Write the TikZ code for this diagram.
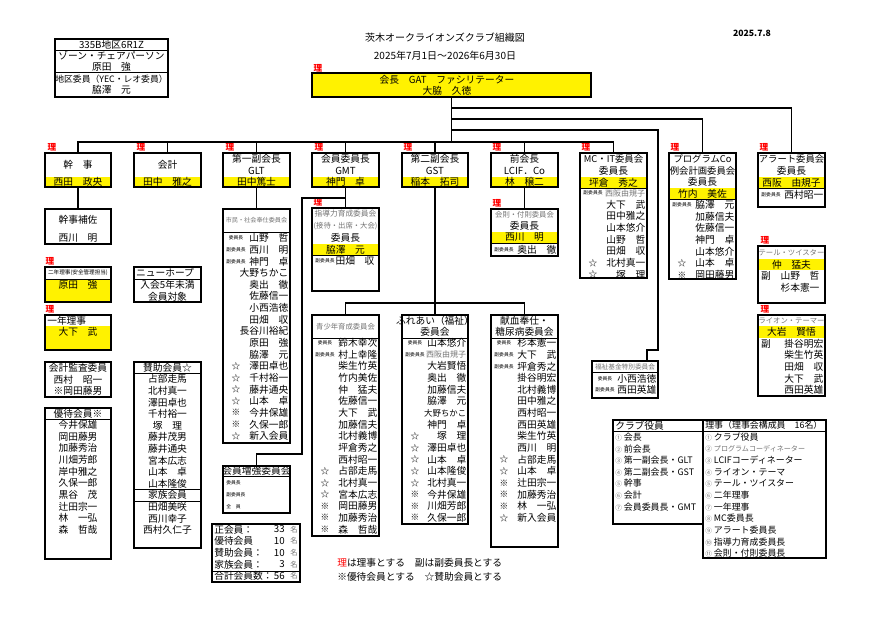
\documentclass[tikz,border=0pt]{standalone}
\usepackage{fontspec}
\setmainfont{Noto Sans CJK JP}
\usetikzlibrary{fit,calc}
\newcommand\fz[1]{\fontsize{#1}{#1}\selectfont}
\newcommand\wi{{\fz{3.6}委員長}}
\newcommand\fw{{\fz{3.6}副委員長}}
\definecolor{gr}{gray}{0.45}
\tikzset{
 box/.style={draw, line width=1.1pt, inner sep=0pt},
 conn/.style={line width=0.9pt},
 sep/.style={line width=0.6pt},
 nm/.style={inner sep=0pt, font=\fz{7.3}},
 hd/.style={inner sep=0pt, font=\fz{7}},
 gh/.style={inner sep=0pt, text=gr},
 ri/.style={inner sep=0pt, text=red, font=\fz{6.5}\bfseries},
 pf/.style={inner sep=0pt, font=\fz{6.5}},
}
\newcommand\bx[5]{\node[box, fit={(#2,#3) (#4,#5)}] (#1) {};}
\newcommand\mlist[4]{%
 \foreach \p/\n [count=\i from 0] in {#4} {
   \node[nm, anchor=east] at (#2-1.5, #3+\i*11.65) {\n};
   \node[pf] at (#1+13, #3+\i*11.65) {\p};
 }}
\begin{document}
\begin{tikzpicture}[x=0.75pt,y=-0.75pt]
\useasboundingbox (0,0) rectangle (890,629);
% yellow bands
\fill[yellow] (312,73) rectangle (591,97);
\foreach \a/\b in {45/111,134/201,223/290,312/379,402/468,491/558}{\fill[yellow] (\a,177) rectangle (\b,187);}
\fill[yellow] (580,177) rectangle (647,188);
\fill[yellow] (669,188) rectangle (736,199);
\fill[yellow] (758,177) rectangle (825,188);
\fill[yellow] (45,279) rectangle (111,302);
\fill[yellow] (45,326) rectangle (111,350);
\fill[yellow] (312,244) rectangle (379,255);
\fill[yellow] (491,232) rectangle (558,243);
\fill[yellow] (758,259) rectangle (825,270);
\fill[yellow] (758,326) rectangle (825,338);

% title
\node[inner sep=0, font=\fz{7.5}] (title) at (445,38) {茨木オークライオンズクラブ組織図};
\node[inner sep=0, font=\fz{7.5}] (period) at (445,56) {2025年7月1日～2026年6月30日};
\node[inner sep=0, font=\fz{6.5}\bfseries] (date) at (752,33) {2025.7.8};

% district box
\bx{dist}{55}{39}{168}{97}
\draw[sep] (55,50) -- (168,50); \draw[sep] (55,72) -- (168,72);
\node[nm] at (111.5,44.5) {335B地区6R1Z};
\node[nm] at (111.5,56) {ゾーン・チェアパーソン};
\node[nm] at (111.5,66.5) {原田　強};
\node[nm,font=\fz{6.6}] at (111.5,79) {地区委員（YEC・レオ委員）};
\node[nm] at (111.5,90) {脇澤　元};

% president
\bx{pres}{312}{73}{591}{97}
\node[ri] at (318,68) {理};
\node[nm] at (447,80) {会長　GAT　ファシリテーター};
\node[nm] at (447,90.5) {大脇　久徳};

% top row
\bx{kanji}{45}{153}{111}{187}
\node[nm] at (78,165) {幹　事}; \node[nm] at (78,182) {西田　政央};
\bx{kaikei}{134}{153}{201}{187}
\node[nm] at (167.5,165) {会計}; \node[nm] at (167.5,182) {田中　雅之};
\bx{dai1}{223}{153}{290}{187}
\node[nm] at (256.5,159) {第一副会長}; \node[nm] at (256.5,171) {GLT}; \node[nm] at (256.5,182) {田中篤士};
\bx{kaiin}{312}{153}{379}{187}
\node[nm] at (345.5,159) {会員委員長}; \node[nm] at (345.5,171) {GMT}; \node[nm] at (345.5,182) {神門　卓};
\bx{dai2}{402}{153}{468}{187}
\node[nm] at (435,159) {第二副会長}; \node[nm] at (435,171) {GST}; \node[nm] at (435,182) {稲本　拓司};
\bx{zen}{491}{153}{558}{187}
\node[nm] at (524.5,159) {前会長}; \node[nm] at (524.5,171) {LCIF．Co}; \node[nm] at (524.5,182) {林　穣二};
\bx{mc}{580}{153}{647}{278}
\draw[sep] (580,188) -- (647,188);
\node[hd] at (613.5,159) {MC・IT委員会}; \node[nm] at (613.5,171) {委員長}; \node[nm] at (613.5,182.5) {坪倉　秀之};
\mlist{580}{647}{193}{\fw/{\fz{6}\color{gr}西阪由規子},{}/大下　武,{}/田中雅之,{}/山本悠介,{}/山野　哲,{}/田畑　収,☆/北村真一,☆/塚　理}
\bx{prog}{669}{153}{736}{279}
\draw[sep] (669,199) -- (736,199);
\node[hd] at (702.5,159) {プログラムCo}; \node[hd] at (702.5,171) {例会計画委員会}; \node[nm] at (702.5,182) {委員長}; \node[nm] at (702.5,193.5) {竹内　美佐};
\mlist{669}{736}{205}{\fw/脇澤　元,{}/加藤信夫,{}/佐藤信一,{}/神門　卓,{}/山本悠介,☆/山本　卓,※/岡田藤男}
\bx{alert}{758}{153}{825}{207}
\draw[sep] (758,188) -- (825,188);
\node[hd] at (791.5,159) {アラート委員会}; \node[nm] at (791.5,171) {委員長}; \node[nm] at (791.5,182.5) {西阪　由規子};
\mlist{758}{825}{195}{\fw/西村昭一}
\foreach \xx in {52,141,230,319,408,497,586,675,764}{\node[ri] at (\xx,147) {理};}

% left column
\bx{hosa}{45}{209}{111}{244}
\node[nm] at (78,220) {幹事補佐}; \node[nm] at (78,238) {西川　明};
\node[ri] at (50,261) {理};
\bx{ninen}{45}{267}{111}{302}
\draw[sep] (45,279) -- (111,279);
\node[gh,font=\fz{4.2},text=black] at (78,273) {二年理事(安全管理担当)};
\node[nm] at (78,285) {原田　強};
\node[ri] at (50,309) {理};
\bx{ichinen}{45}{315}{111}{350}
\node[nm,anchor=west] at (47,320.5) {一年理事}; \node[nm] at (78,332) {大下　武};
\bx{hope}{134}{267}{201}{302}
\draw[sep] (134,279) -- (201,279);
\node[nm] at (165,273) {ニューホープ}; \node[nm] at (167.5,285) {入会5年未満}; \node[nm] at (167.5,296.5) {会員対象};
\bx{kansa}{45}{362}{111}{397}
\node[nm] at (78,368) {会計監査委員}; \node[nm] at (78,379.5) {西村　昭一}; \node[nm] at (78,391) {※岡田藤男};
\bx{yutai}{45}{408}{111}{559}
\draw[sep] (45,419) -- (111,419);
\node[nm] at (78,413.5) {優待会員※};
\foreach \n [count=\i from 0] in {今井保雄,岡田藤男,加藤秀治,川畑芳郎,岸中雅之,久保一郎,黒谷　茂,辻田宗一,林　一弘,森　哲哉}{\node[nm] at (78,425+\i*11.65) {\n};}
\bx{sanjo}{134}{362}{201}{548}
\draw[sep] (134,373) -- (201,373);
\draw[sep] (134,489) -- (201,489); \draw[sep] (134,501) -- (201,501);
\node[nm] at (167.5,367.5) {賛助会員☆};
\foreach \n [count=\i from 0] in {占部走馬,北村真一,澤田卓也,千村裕一,塚　理,藤井茂男,藤井通央,宮本広志,山本　卓,山本隆俊}{\node[nm] at (167.5,379+\i*11.65) {\n};}
\node[nm] at (167.5,495) {家族会員};
\foreach \n [count=\i from 0] in {田畑美咲,西川幸子,西村久仁子}{\node[nm] at (167.5,507+\i*11.65) {\n};}

% shimin
\bx{shimin}{223}{209}{290}{443}
\draw[sep] (223,232) -- (290,232);
\node[gh,font=\fz{4.6}] at (256.5,220.5) {市民・社会奉仕委員会};
\mlist{223}{290}{238}{\wi/山野　哲,\fw/西川　明,\fw/神門　卓,{}/大野ちかこ,{}/奥出　徹,{}/佐藤信一,{}/小西浩徳,{}/田畑　収,{}/長谷川裕紀,{}/原田　強,{}/脇澤　元,☆/澤田卓也,☆/千村裕一,☆/藤井通央,☆/山本　卓,※/今井保雄,※/久保一郎,☆/新入会員}
\bx{zokyo}{223}{466}{290}{513}
\draw[sep] (223,476) -- (290,476);
\node[nm] at (256.5,471) {会員増強委員会};
\node[pf,font=\fz{3.6},anchor=west] at (226,483) {委員長};
\node[pf,font=\fz{3.6},anchor=west] at (226,495) {副委員長};
\node[pf,font=\fz{3.6},anchor=west] at (226,507) {全　員};
\bx{count}{212}{524}{300}{582}
\draw[sep] (212,571) -- (300,571);
\foreach \l/\v [count=\i from 0] in {正会員：/33,優待会員/10,賛助会員：/10,家族会員：/3,合計会員数：/56}{
 \node[nm,anchor=west] at (214,529.5+\i*11.6) {\l};
 \node[nm,anchor=east] at (285,529.5+\i*11.6) {\v};
 \node[nm,font=\fz{5.5},text=gr] at (294,529.5+\i*11.6) {名};}

% shidou
\node[ri] at (318,202) {理};
\bx{shidou}{312}{208}{379}{291}
\draw[sep] (312,255) -- (379,255);
\node[gh,font=\fz{5.8}] at (345.5,214) {指導力育成委員会};
\node[gh,font=\fz{5.5}] at (345.5,226) {(接待・出席・大会)};
\node[nm] at (345.5,238) {委員長}; \node[nm] at (345.5,249.5) {脇澤　元};
\node[pf,font=\fz{3.6}] at (325,261) {副委員長};
\node[nm] at (355,261) {田畑　収};
% seishonen
\bx{seisho}{312}{315}{379}{536}
\draw[sep] (312,338) -- (379,338);
\node[gh,font=\fz{5.5}] at (345.5,326.5) {青少年育成委員会};
\mlist{312}{379}{343}{\wi/鈴木幸次,\fw/村上幸隆,{}/柴生竹英,{}/竹内美佐,{}/仲　猛夫,{}/佐藤信一,{}/大下　武,{}/加藤信夫,{}/北村義博,{}/坪倉秀之,{}/西村昭一,☆/占部走馬,☆/北村真一,☆/宮本広志,※/岡田藤男,※/加藤秀治,※/森　哲哉}
\bx{fureai}{402}{315}{468}{524}
\draw[sep] (402,338) -- (468,338);
\node[nm] at (435,321) {ふれあい（福祉）}; \node[nm] at (435,332) {委員会};
\mlist{402}{468}{343}{\wi/山本悠介,\fw/{\fz{6}\color{gr}西阪由規子},{}/大岩賢悟,{}/奥出　徹,{}/加藤信夫,{}/脇澤　元,{}/{\fz{6.3}大野ちかこ},{}/神門　卓,☆/塚　理,☆/澤田卓也,☆/山本　卓,☆/山本隆俊,☆/北村真一,※/今井保雄,※/川畑芳郎,※/久保一郎}
\bx{kenketsu}{491}{315}{558}{547}
\draw[sep] (491,338) -- (558,338);
\node[nm] at (524.5,321) {献血奉仕・}; \node[nm] at (524.5,332) {糖尿病委員会};
\mlist{491}{558}{343}{\wi/杉本憲一,\fw/大下　武,\fw/坪倉秀之,{}/掛谷明宏,{}/北村義博,{}/田中雅之,{}/西村昭一,{}/西田英雄,{}/柴生竹英,{}/西川　明,☆/占部走馬,☆/山本　卓,※/辻田宗一,※/加藤秀治,※/林　一弘,☆/新入会員}
% kaisoku
\node[ri] at (497,203) {理};
\bx{kaisoku}{491}{209}{558}{256}
\draw[sep] (491,243) -- (558,243);
\node[gh,font=\fz{5.5}] at (524.5,214.5) {会則・付則委員会};
\node[nm] at (524.5,226) {委員長}; \node[nm] at (524.5,237.5) {西川　明};
\mlist{491}{558}{249.5}{\fw/奥出　徹}
% fukushi kikin
\bx{kikin}{592}{361}{658}{398}
\draw[sep] (592,372) -- (658,372);
\node[gh,font=\fz{5}] at (625,366.5) {福祉基金特別委員会};
\mlist{592}{658}{378.5}{\wi/小西浩徳,\fw/西田英雄}
% tail / lion
\node[ri] at (765,240) {理};
\bx{tail}{758}{246}{825}{303}
\node[gh,font=\fz{5.5}] at (791.5,253) {テール・ツイスター};
\node[nm] at (791.5,264.5) {仲　猛夫};
\node[nm] at (766,276) {副};
\node[nm] at (800,276) {山野　哲};
\node[nm] at (800,287.5) {杉本憲一};
\node[ri] at (765,309) {理};
\bx{lion}{758}{315}{825}{396}
\node[gh,font=\fz{5.5}] at (791.5,320.5) {ライオン・テーマー};
\node[nm] at (791.5,332) {大岩　賢悟};
\node[nm] at (766,343.5) {副};
\mlist{758}{825}{343.5}{{}/掛谷明宏,{}/柴生竹英,{}/田畑　収,{}/大下　武,{}/西田英雄}

% tables
\bx{yakuin}{613}{420}{703}{524}
\draw[sep] (613,431) -- (703,431);
\node[nm,anchor=west] at (615,425.5) {クラブ役員};
\foreach \c/\t [count=\i from 0] in {①/会長,②/前会長,③/第一副会長・GLT,④/第二副会長・GST,⑤/幹事,⑥/会計,⑦/会員委員長・GMT}{
 \node[nm,anchor=west,font=\fz{6.7}] at (615,437+\i*11.65) {{\color{gr}\fz{5}\c} \t};}
\bx{riji}{703}{420}{826}{558}
\draw[sep] (703,431) -- (826,431);
\node[nm,anchor=west,font=\fz{6.7}] at (705,425.5) {理事（理事会構成員　16名）};
\foreach \c/\t [count=\i from 0] in {①/クラブ役員,②/{\color{gr}\fz{5.3}プログラムコーディネーター},③/LCIFコーディネーター,④/ライオン・テーマ,⑤/テール・ツイスター,⑥/二年理事,⑦/一年理事,⑧/MC委員長,⑨/アラート委員長,⑩/指導力育成委員長,⑪/会則・付則委員長}{
 \node[nm,anchor=west,font=\fz{6.7}] at (705,437+\i*11.65) {{\color{gr}\fz{5}\c} \t};}

% notes
\node[nm,anchor=west] (note1) at (337,563) {{\color{red}理}は理事とする　副は副委員長とする};
\node[nm,anchor=west] (note2) at (337,577) {※優待会員とする　☆賛助会員とする};

% connectors
\coordinate (bus) at (0,142);
\draw[conn] (pres.south) -- (pres.south |- bus);
\draw[conn] (kanji.north) |- (mc.north |- bus) -- (mc.north);
\foreach \b in {kaikei,dai1,kaiin,dai2,zen}{\draw[conn] (\b.north) -- (\b.north |- bus);}
\draw[conn] (pres.south |- 0,108) -| (alert.north);
\draw[conn] (pres.south |- 0,119) -| (prog.north);
\draw[conn] (pres.south |- 0,130) -| (658,350) -| ($(kikin.north)+(22,0)$);
\draw[conn] (kanji.south) -- (hosa.north);
\draw[conn] (dai1.south) -- (shimin.north);
\draw[conn] (kaiin.south) -- (shidou.north);
\draw[conn] (kaiin.south |- 0,198) -| (302,454) -| (zokyo.north);
\draw[conn] (dai2.south) -- (fureai.north);
\draw[conn] (seisho.north) |- (kenketsu.north |- 0,303) -- (kenketsu.north);
\draw[conn] (zen.south) -- (kaisoku.north);
\end{tikzpicture}
\end{document}
